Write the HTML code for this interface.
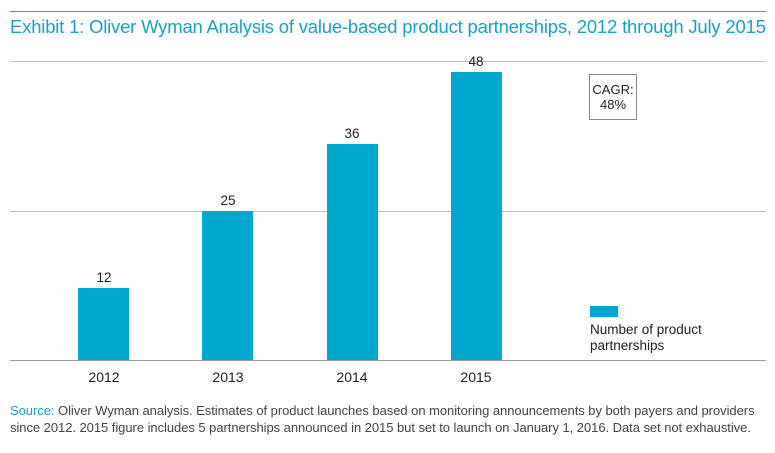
<!DOCTYPE html>
<html><head><style>
body{margin:0;width:775px;height:453px;background:#fff;font-family:"Liberation Sans",sans-serif;position:relative;overflow:hidden}
.a{position:absolute}
.hl{position:absolute;left:10px;width:756px;height:1px;background:#bdbdbd}
.bar{position:absolute;background:#00a8d0;width:51px}
.v{position:absolute;width:60px;text-align:center;font-size:13.5px;color:#222}
.y{position:absolute;width:60px;text-align:center;font-size:14px;color:#222;top:369px}
</style></head><body>
<div class="hl" style="top:11px;background:#2aa6c8"></div>
<div class="a" style="left:10px;top:16px;font-size:18.5px;color:#1aa0c8;white-space:nowrap;letter-spacing:-0.2px">Exhibit 1: Oliver Wyman Analysis of value-based product partnerships, 2012 through July 2015</div>
<div class="hl" style="top:61px"></div>
<div class="hl" style="top:211px"></div>
<div class="hl" style="top:360px;background:#999"></div>
<div class="bar" style="left:78px;top:288px;height:72px"></div>
<div class="bar" style="left:202px;top:211px;height:149px"></div>
<div class="bar" style="left:327px;top:144px;height:216px"></div>
<div class="bar" style="left:451px;top:72px;height:288px"></div>
<div class="v" style="left:74px;top:270px">12</div>
<div class="v" style="left:198px;top:193px">25</div>
<div class="v" style="left:322px;top:126px">36</div>
<div class="v" style="left:446px;top:54px">48</div>
<div class="y" style="left:74px">2012</div>
<div class="y" style="left:198px">2013</div>
<div class="y" style="left:322px">2014</div>
<div class="y" style="left:446px">2015</div>
<div class="a" style="left:589px;top:74px;width:48px;height:46px;border:1px solid #888;font-size:13px;text-align:center;line-height:15px;padding-top:7px;box-sizing:border-box;color:#222">CAGR:<br>48%</div>
<div class="a" style="left:590px;top:306px;width:28px;height:11px;background:#00a8d0"></div>
<div class="a" style="left:590px;top:322px;font-size:13.5px;line-height:16px;color:#222">Number of product<br>partnerships</div>
<div class="a" style="left:10px;top:402px;font-size:13px;line-height:17px;color:#444;white-space:nowrap;letter-spacing:-0.05px"><span style="color:#1aa0c8">Source:</span> Oliver Wyman analysis. Estimates of product launches based on monitoring announcements by both payers and providers<br>since 2012. 2015 figure includes 5 partnerships announced in 2015 but set to launch on January 1, 2016. Data set not exhaustive.</div>
</body></html>
